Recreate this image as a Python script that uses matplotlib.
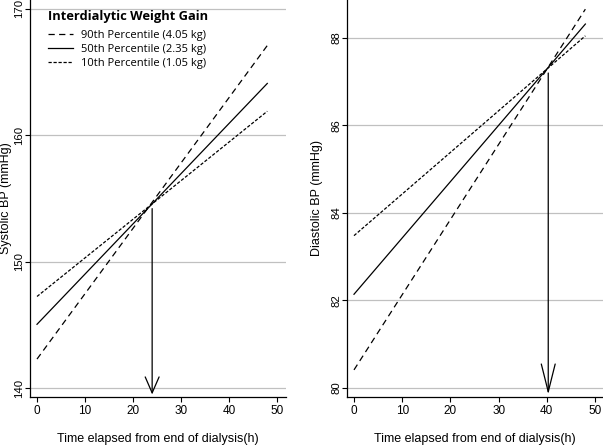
import matplotlib
matplotlib.use("Agg")
import matplotlib.pyplot as plt

plt.rcParams['font.family'] = ['Liberation Sans', 'DejaVu Sans']

# predicted BP at start and end of the interdialytic period
hours = [0, 48]
sbp_p90 = [142.3, 167.1]
sbp_p50 = [145.05, 164.1]
sbp_p10 = [147.25, 161.9]
dbp_p90 = [80.41, 88.66]
dbp_p50 = [82.14, 88.32]
dbp_p10 = [83.48, 88.05]

# where the lines cross (arrow position)
sbp_cross = (24.0, 154.2)
dbp_cross = (40.3, 87.2)

labels = ["90th Percentile (4.05 kg)", "50th Percentile (2.35 kg)", "10th Percentile (1.05 kg)"]
dash_90 = (0, (5, 3.5))
dash_10 = (0, (2.6, 1.4))

fig = plt.figure(figsize=(6.03, 4.45), dpi=100)
ax1 = fig.add_axes([30/603, 48/445, 256/603, 397/445])
ax2 = fig.add_axes([347/603, 48/445, 256/603, 397/445])


def style_axis(ax, yticks):
    for s in ['top', 'right']:
        ax.spines[s].set_visible(False)
    ax.spines['left'].set_linewidth(0.9)
    ax.spines['bottom'].set_linewidth(0.9)
    ax.set_xticks([0, 10, 20, 30, 40, 50])
    ax.set_yticks(yticks)
    ax.tick_params(axis='x', direction='out', length=3.6, width=0.8, labelsize=8.5, pad=2.5)
    ax.tick_params(axis='y', direction='out', length=3.6, width=0.8, labelsize=8.2, pad=0.6)
    for lab in ax.get_yticklabels():
        lab.set_rotation(90)
        lab.set_va('center')
    for y in yticks:
        ax.axhline(y, color='#c0c0c0', lw=0.9, zorder=0)
    ax.set_xlabel("Time elapsed from end of dialysis(h)", fontsize=9, labelpad=11)


# left panel: systolic
ax1.plot(hours, sbp_p90, color='black', lw=0.9, linestyle=dash_90, label=labels[0])
ax1.plot(hours, sbp_p50, color='black', lw=0.9, linestyle='-', label=labels[1])
ax1.plot(hours, sbp_p10, color='black', lw=0.9, linestyle=dash_10, label=labels[2])
ax1.annotate('', xy=(sbp_cross[0], 139.5), xytext=sbp_cross,
             arrowprops=dict(arrowstyle='->,head_length=1.15,head_width=0.5',
                             lw=0.9, color='black', shrinkA=0, shrinkB=0, mutation_scale=10))
ax1.set_xlim(-1.46, 51.9)
ax1.set_ylim(139.3, 170.7)
style_axis(ax1, [140, 150, 160, 170])
ax1.set_ylabel("Systolic BP (mmHg)", fontsize=9)
ax1.yaxis.set_label_coords(-0.070, 0.5)

leg = ax1.legend(loc='upper left', bbox_to_anchor=(0.045, 0.992), frameon=False,
                 title="Interdialytic Weight Gain",
                 handlelength=2.2, handletextpad=0.75, labelspacing=0.3,
                 borderaxespad=0.2, prop={'family': ['Open Sans', 'DejaVu Sans'], 'size': 8})
leg.get_title().set_fontweight('bold')
leg.get_title().set_fontfamily(['Open Sans', 'DejaVu Sans'])
leg.get_title().set_fontsize(9.3)
leg._legend_box.align = 'left'
leg._legend_box.sep = 4.8  # a bit more room under the title

# right panel: diastolic
ax2.plot(hours, dbp_p90, color='black', lw=0.9, linestyle=dash_90)
ax2.plot(hours, dbp_p50, color='black', lw=0.9, linestyle='-')
ax2.plot(hours, dbp_p10, color='black', lw=0.9, linestyle=dash_10)
ax2.annotate('', xy=(dbp_cross[0], 79.85), xytext=dbp_cross,
             arrowprops=dict(arrowstyle='->,head_length=2.0,head_width=0.5',
                             lw=0.9, color='black', shrinkA=0, shrinkB=0, mutation_scale=10))
ax2.set_xlim(-1.45, 51.66)
ax2.set_ylim(79.79, 88.87)
style_axis(ax2, [80, 82, 84, 86, 88])
ax2.set_ylabel("Diastolic BP (mmHg)", fontsize=9)
ax2.yaxis.set_label_coords(-0.094, 0.5)

fig.savefig("out.png", dpi=100)
